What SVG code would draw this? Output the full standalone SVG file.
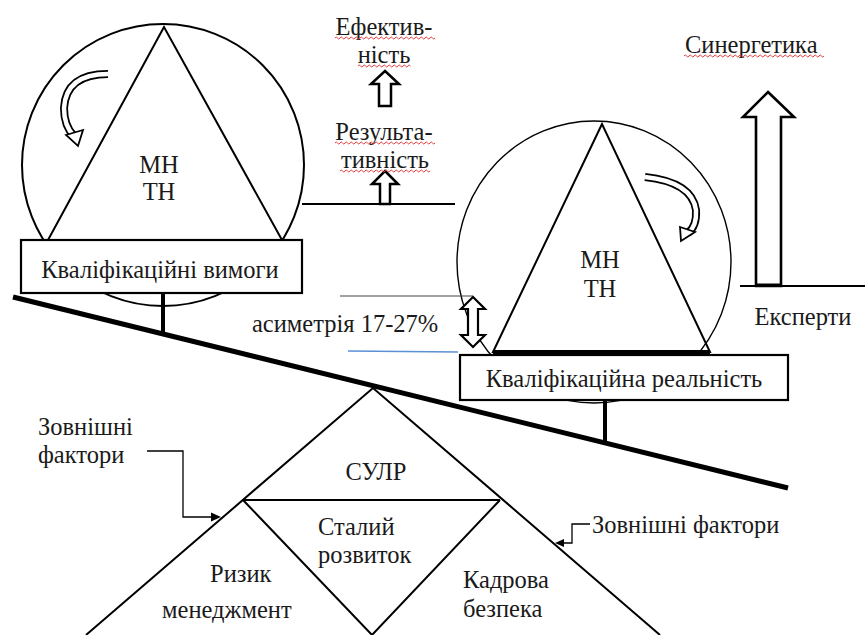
<svg xmlns="http://www.w3.org/2000/svg" width="865" height="635" viewBox="0 0 865 635">
  <rect width="865" height="635" fill="#fff"/>

  <!-- balance beam and supports -->
  <g id="beam">
    <line x1="13" y1="297" x2="788" y2="488" stroke="#000" stroke-width="5"/>
    <line x1="163" y1="293" x2="163" y2="334" stroke="#000" stroke-width="4"/>
    <line x1="605" y1="400" x2="605" y2="443" stroke="#000" stroke-width="4"/>
  </g>

  <!-- left pan: requirements -->
  <g id="left-pan">
    <circle cx="163" cy="165" r="141" fill="none" stroke="#000" stroke-width="2"/>
    <polygon points="164,27 48,240 282,240" fill="none" stroke="#000" stroke-width="2"/>
    <text x="159" y="173" text-anchor="middle" fill="#1a1a1a" font-family="Liberation Serif" font-size="24.5">МН</text>
    <text x="159" y="200" text-anchor="middle" fill="#1a1a1a" font-family="Liberation Serif" font-size="24.5">ТН</text>
    <!-- rotation arrow -->
    <path d="M108,74 Q66,74 64,108 Q64,126 74,136" fill="none" stroke="#000" stroke-width="8"/>
    <path d="M108,74 Q66,74 64,108 Q64,126 74,136" fill="none" stroke="#fff" stroke-width="4.5"/>
    <polygon points="66,135 83,130 78,146" fill="#fff" stroke="#000" stroke-width="1.8"/>
    <rect x="21" y="240" width="281" height="53" fill="#fff" stroke="#000" stroke-width="2.2"/>
    <text x="160" y="278" text-anchor="middle" fill="#1a1a1a" font-family="Liberation Serif" font-size="24.5">Кваліфікаційні вимоги</text>
  </g>

  <!-- right pan: reality -->
  <g id="right-pan">
    <ellipse cx="594" cy="262" rx="137" ry="141" fill="none" stroke="#000" stroke-width="1.4"/>
    <polygon points="602,124 493,352 710,352" fill="none" stroke="#000" stroke-width="2"/>
    <line x1="493" y1="352" x2="710" y2="352" stroke="#000" stroke-width="4"/>
    <text x="600" y="268" text-anchor="middle" fill="#1a1a1a" font-family="Liberation Serif" font-size="24.5">МН</text>
    <text x="600" y="297" text-anchor="middle" fill="#1a1a1a" font-family="Liberation Serif" font-size="24.5">ТН</text>
    <!-- rotation arrow -->
    <path d="M645,177 Q692,182 696,210 Q697,226 688,233" fill="none" stroke="#000" stroke-width="8"/>
    <path d="M645,177 Q692,182 696,210 Q697,226 688,233" fill="none" stroke="#fff" stroke-width="4.5"/>
    <polygon points="680,227 695,232 681,241" fill="#fff" stroke="#000" stroke-width="1.8"/>
    <rect x="460" y="355" width="328" height="45" fill="#fff" stroke="#000" stroke-width="2.2"/>
    <text x="624" y="387" text-anchor="middle" fill="#1a1a1a" font-family="Liberation Serif" font-size="24.5">Кваліфікаційна реальність</text>
  </g>

  <!-- effectiveness column -->
  <g id="effectiveness">
    <line x1="302" y1="204" x2="455" y2="204" stroke="#000" stroke-width="2.2"/>
    <polygon points="385,171 398,184 390,184 390,204 380,204 380,184 372,184" fill="#fff" stroke="#000" stroke-width="2.5"/>
    <polygon points="385,71 399,84 391,84 391,106 379,106 379,84 371,84" fill="#fff" stroke="#000" stroke-width="2.5"/>
    <text x="384" y="35" text-anchor="middle" fill="#1a1a1a" font-family="Liberation Serif" font-size="24.5">Ефектив-</text>
    <path d="M335,38 q1.25,-2 2.5,0 t2.5,0 t2.5,0 t2.5,0 t2.5,0 t2.5,0 t2.5,0 t2.5,0 t2.5,0 t2.5,0 t2.5,0 t2.5,0 t2.5,0 t2.5,0 t2.5,0 t2.5,0 t2.5,0 t2.5,0 t2.5,0 t2.5,0 t2.5,0 t2.5,0 t2.5,0 t2.5,0 t2.5,0 t2.5,0 t2.5,0 t2.5,0 t2.5,0 t2.5,0 t2.5,0 t2.5,0 t2.5,0 t2.5,0 t2.5,0 t2.5,0 t2.5,0 t2.5,0 t2.5,0 t2.5,0" fill="none" stroke="#e23a3a" stroke-width="1"/>
    <text x="384" y="63" text-anchor="middle" fill="#1a1a1a" font-family="Liberation Serif" font-size="24.5">ність</text>
    <path d="M358,66 q1.25,-2 2.5,0 t2.5,0 t2.5,0 t2.5,0 t2.5,0 t2.5,0 t2.5,0 t2.5,0 t2.5,0 t2.5,0 t2.5,0 t2.5,0 t2.5,0 t2.5,0 t2.5,0 t2.5,0 t2.5,0 t2.5,0 t2.5,0 t2.5,0 t2.5,0" fill="none" stroke="#e23a3a" stroke-width="1"/>
    <text x="384" y="140" text-anchor="middle" fill="#1a1a1a" font-family="Liberation Serif" font-size="24.5">Результа-</text>
    <path d="M335,143 q1.25,-2 2.5,0 t2.5,0 t2.5,0 t2.5,0 t2.5,0 t2.5,0 t2.5,0 t2.5,0 t2.5,0 t2.5,0 t2.5,0 t2.5,0 t2.5,0 t2.5,0 t2.5,0 t2.5,0 t2.5,0 t2.5,0 t2.5,0 t2.5,0 t2.5,0 t2.5,0 t2.5,0 t2.5,0 t2.5,0 t2.5,0 t2.5,0 t2.5,0 t2.5,0 t2.5,0 t2.5,0 t2.5,0 t2.5,0 t2.5,0 t2.5,0 t2.5,0 t2.5,0 t2.5,0 t2.5,0 t2.5,0" fill="none" stroke="#e23a3a" stroke-width="1"/>
    <text x="385" y="168" text-anchor="middle" fill="#1a1a1a" font-family="Liberation Serif" font-size="24.5">тивність</text>
    <path d="M340,171 q1.25,-2 2.5,0 t2.5,0 t2.5,0 t2.5,0 t2.5,0 t2.5,0 t2.5,0 t2.5,0 t2.5,0 t2.5,0 t2.5,0 t2.5,0 t2.5,0 t2.5,0 t2.5,0 t2.5,0 t2.5,0 t2.5,0 t2.5,0 t2.5,0 t2.5,0 t2.5,0 t2.5,0 t2.5,0 t2.5,0 t2.5,0 t2.5,0 t2.5,0 t2.5,0 t2.5,0 t2.5,0 t2.5,0 t2.5,0 t2.5,0 t2.5,0 t2.5,0" fill="none" stroke="#e23a3a" stroke-width="1"/>
  </g>

  <!-- synergetics column -->
  <g id="synergetics">
    <line x1="740" y1="286" x2="865" y2="286" stroke="#000" stroke-width="2.2"/>
    <polygon points="768,92 794,117 781,117 781,286 756,286 756,117 743,117" fill="#fff" stroke="#000" stroke-width="2.6"/>
    <line x1="756" y1="285" x2="781" y2="285" stroke="#000" stroke-width="3"/>
    <text x="685" y="53" fill="#1a1a1a" font-family="Liberation Serif" font-size="24.5">Синергетика</text>
    <path d="M684,56 q1.25,-2 2.5,0 t2.5,0 t2.5,0 t2.5,0 t2.5,0 t2.5,0 t2.5,0 t2.5,0 t2.5,0 t2.5,0 t2.5,0 t2.5,0 t2.5,0 t2.5,0 t2.5,0 t2.5,0 t2.5,0 t2.5,0 t2.5,0 t2.5,0 t2.5,0 t2.5,0 t2.5,0 t2.5,0 t2.5,0 t2.5,0 t2.5,0 t2.5,0 t2.5,0 t2.5,0 t2.5,0 t2.5,0 t2.5,0 t2.5,0 t2.5,0 t2.5,0 t2.5,0 t2.5,0 t2.5,0 t2.5,0 t2.5,0 t2.5,0 t2.5,0 t2.5,0 t2.5,0 t2.5,0 t2.5,0 t2.5,0 t2.5,0 t2.5,0 t2.5,0 t2.5,0 t2.5,0 t2.5,0 t2.5,0 t2.5,0" fill="none" stroke="#e23a3a" stroke-width="1"/>
    <text x="803" y="325" text-anchor="middle" fill="#1a1a1a" font-family="Liberation Serif" font-size="24.5">Експерти</text>
  </g>

  <!-- asymmetry gauge -->
  <g id="asymmetry">
    <line x1="340" y1="296" x2="473" y2="296" stroke="#444" stroke-width="1.2"/>
    <line x1="348" y1="351" x2="458" y2="352" stroke="#5b8fd6" stroke-width="1.5"/>
    <polygon points="473,297 485,309 478,309 478,335 485,335 473,347 461,335 468,335 468,309 461,309" fill="#fff" stroke="#000" stroke-width="2.2"/>
    <text x="252" y="332" fill="#1a1a1a" font-family="Liberation Serif" font-size="24.5">асиметрія 17-27%</text>
  </g>

  <!-- management diamond -->
  <g id="diamond">
    <polyline points="86,635 373,388 660,635" fill="none" stroke="#000" stroke-width="2"/>
    <line x1="243" y1="500" x2="500" y2="500" stroke="#000" stroke-width="2"/>
    <polyline points="243,500 372,635 500,500" fill="none" stroke="#000" stroke-width="2"/>
    <text x="376" y="480" text-anchor="middle" fill="#1a1a1a" font-family="Liberation Serif" font-size="24.5">СУЛР</text>
    <text x="318" y="535" fill="#1a1a1a" font-family="Liberation Serif" font-size="24.5">Сталий</text>
    <text x="318" y="563" fill="#1a1a1a" font-family="Liberation Serif" font-size="24.5">розвиток</text>
    <text x="210" y="582" fill="#1a1a1a" font-family="Liberation Serif" font-size="24.5">Ризик</text>
    <text x="162" y="618" fill="#1a1a1a" font-family="Liberation Serif" font-size="24.5">менеджмент</text>
    <text x="463" y="588" fill="#1a1a1a" font-family="Liberation Serif" font-size="24.5">Кадрова</text>
    <text x="463" y="617" fill="#1a1a1a" font-family="Liberation Serif" font-size="24.5">безпека</text>
  </g>

  <!-- external factor labels -->
  <g id="external-left">
    <text x="38" y="435" fill="#1a1a1a" font-family="Liberation Serif" font-size="24.5">Зовнішні</text>
    <text x="38" y="463" fill="#1a1a1a" font-family="Liberation Serif" font-size="24.5">фактори</text>
  </g>
  <g id="external-right">
    <text x="592" y="533" fill="#1a1a1a" font-family="Liberation Serif" font-size="24.5">Зовнішні фактори</text>
  </g>

  <g id="connectors">
    <polyline points="147,451 183,451 183,517 213,517" fill="none" stroke="#000" stroke-width="1.3"/>
    <polygon points="221,517 211,512.5 211,521.5" fill="#000"/>
    <polyline points="590,524 572,524 572,543 562,543" fill="none" stroke="#000" stroke-width="1.3"/>
    <polygon points="555,543 564,539 564,547" fill="#000"/>
  </g>
</svg>
